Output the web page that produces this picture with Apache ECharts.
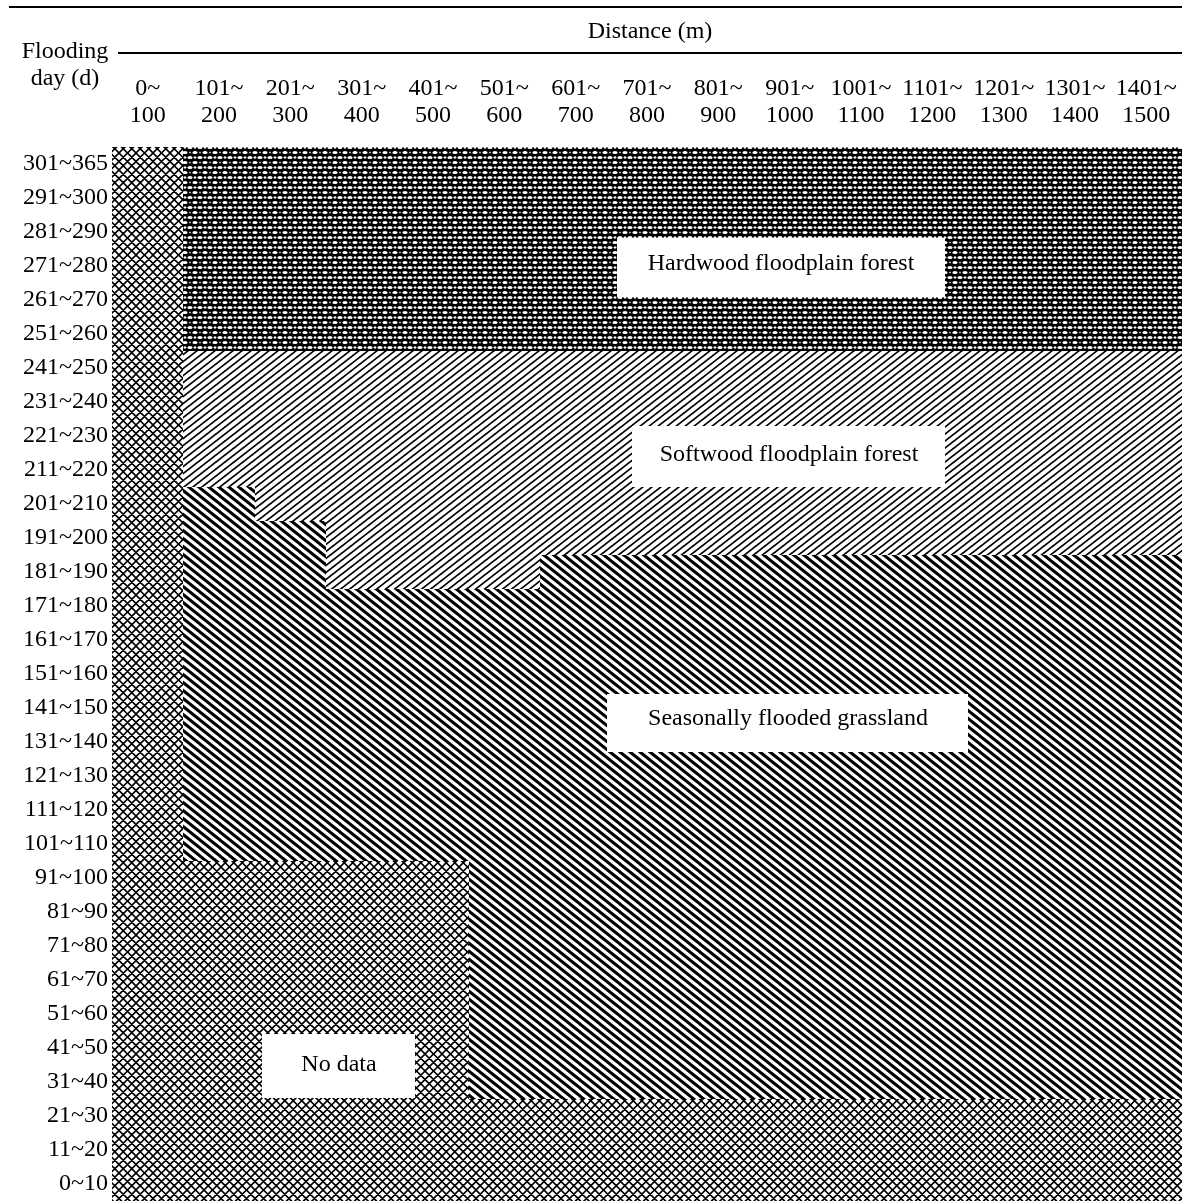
<!DOCTYPE html>
<html>
<head>
<meta charset="utf-8">
<script src="https://cdn.jsdelivr.net/npm/echarts@6/dist/echarts.min.js"></script>
<style>
  html, body { margin: 0; padding: 0; background: #fff; }
  #chart { width: 1182px; height: 1201px; }
</style>
</head>
<body>
<div id="chart"></div>
<script>
// Distance bins along the river bank (m), shown as two-line column headings
const distanceLabels = [
  '0~\n100', '101~\n200', '201~\n300', '301~\n400', '401~\n500',
  '501~\n600', '601~\n700', '701~\n800', '801~\n900', '901~\n1000',
  '1001~\n1100', '1101~\n1200', '1201~\n1300', '1301~\n1400', '1401~\n1500'
];

// Flooding duration bins (days per year), top row first
const floodingLabels = [
  '301~365', '291~300', '281~290', '271~280', '261~270', '251~260',
  '241~250', '231~240', '221~230', '211~220', '201~210', '191~200',
  '181~190', '171~180', '161~170', '151~160', '141~150', '131~140',
  '121~130', '111~120', '101~110', '91~100', '81~90', '71~80',
  '61~70', '51~60', '41~50', '31~40', '21~30', '11~20', '0~10'
];

// Vegetation zone codes
const zoneCodes = ['N', 'G', 'S', 'H'];
const zoneNames = {
  N: 'No data',
  G: 'Seasonally flooded grassland',
  S: 'Softwood floodplain forest',
  H: 'Hardwood floodplain forest'
};

// Zone of every cell: one string per flooding bin, one letter per distance bin
const zoneRows = [
  'NHHHHHHHHHHHHHH', // 301~365
  'NHHHHHHHHHHHHHH', // 291~300
  'NHHHHHHHHHHHHHH', // 281~290
  'NHHHHHHHHHHHHHH', // 271~280
  'NHHHHHHHHHHHHHH', // 261~270
  'NHHHHHHHHHHHHHH', // 251~260
  'NSSSSSSSSSSSSSS', // 241~250
  'NSSSSSSSSSSSSSS', // 231~240
  'NSSSSSSSSSSSSSS', // 221~230
  'NSSSSSSSSSSSSSS', // 211~220
  'NGSSSSSSSSSSSSS', // 201~210
  'NGGSSSSSSSSSSSS', // 191~200
  'NGGSSSGGGGGGGGG', // 181~190
  'NGGGGGGGGGGGGGG', // 171~180
  'NGGGGGGGGGGGGGG', // 161~170
  'NGGGGGGGGGGGGGG', // 151~160
  'NGGGGGGGGGGGGGG', // 141~150
  'NGGGGGGGGGGGGGG', // 131~140
  'NGGGGGGGGGGGGGG', // 121~130
  'NGGGGGGGGGGGGGG', // 111~120
  'NGGGGGGGGGGGGGG', // 101~110
  'NNNNNGGGGGGGGGG', // 91~100
  'NNNNNGGGGGGGGGG', // 81~90
  'NNNNNGGGGGGGGGG', // 71~80
  'NNNNNGGGGGGGGGG', // 61~70
  'NNNNNGGGGGGGGGG', // 51~60
  'NNNNNGGGGGGGGGG', // 41~50
  'NNNNNGGGGGGGGGG', // 31~40
  'NNNNNNNNNNNNNNN', // 21~30
  'NNNNNNNNNNNNNNN', // 11~20
  'NNNNNNNNNNNNNNN'  // 0~10
];

// ---- hatch fills drawn on small canvases and tiled ----
function makeTile(w, h, draw) {
  const c = document.createElement('canvas');
  c.width = w; c.height = h;
  const ctx = c.getContext('2d');
  ctx.fillStyle = '#fff';
  ctx.fillRect(0, 0, w, h);
  draw(ctx, w, h);
  return { image: c, repeat: 'repeat' };
}

function slashLines(ctx, w, h, lw, rising) {
  ctx.strokeStyle = '#000';
  ctx.lineWidth = lw;
  ctx.lineCap = 'square';
  ctx.beginPath();
  for (let k = -1; k <= 1; k++) {
    if (rising) { ctx.moveTo(k * w, h); ctx.lineTo(k * w + w, 0); }
    else { ctx.moveTo(k * w, 0); ctx.lineTo(k * w + w, h); }
  }
  ctx.stroke();
}

const patterns = {
  // lattice of crossing diagonals
  N: makeTile(17, 17, (ctx, w, h) => {
    ctx.strokeStyle = '#000';
    ctx.lineWidth = 1.6;
    ctx.beginPath();
    const p = 8.5;
    for (let k = -3; k <= 5; k++) {
      ctx.moveTo(k * p, 0); ctx.lineTo(k * p + h, h);
      ctx.moveTo(k * p, 0); ctx.lineTo(k * p - h, h);
    }
    ctx.stroke();
  }),
  // bold descending stripes
  G: makeTile(10, 8, (ctx, w, h) => slashLines(ctx, w, h, 3.0, false)),
  // thin rising stripes
  S: makeTile(9, 7, (ctx, w, h) => slashLines(ctx, w, h, 1.7, true)),
  // dark ground with staggered light dots
  H: makeTile(10, 10, (ctx, w, h) => {
    ctx.fillStyle = '#000';
    ctx.fillRect(0, 0, w, h);
    ctx.fillStyle = '#fff';
    const dots = [[5, 2.5], [0, 7.5], [10, 7.5]];
    dots.forEach(([x, y]) => {
      ctx.beginPath();
      ctx.ellipse(x, y, 2.6, 1.6, 0, 0, Math.PI * 2);
      ctx.fill();
    });
    // small crosses between the ovals
    ctx.fillRect(4.3, 6.3, 1.4, 2.4);
    ctx.fillRect(3.6, 6.9, 2.8, 1.2);
    ctx.fillRect(0, 1.8, 0.7, 1.4);
    ctx.fillRect(9.3, 1.8, 0.7, 1.4);
  })
};

// cells as [distance index, flooding index, zone index]
const cells = [];
zoneRows.forEach((row, r) => {
  for (let c = 0; c < row.length; c++) {
    cells.push([c, r, zoneCodes.indexOf(row[c])]);
  }
});

const serif = "'Liberation Serif', 'Times New Roman', 'DejaVu Serif', serif";
const fs = 24;

function renderCell(params, api) {
  const c = api.value(0), r = api.value(1);
  const center = api.coord([c, r]);
  const size = api.size([1, 1]);
  const x0 = Math.round(center[0] - size[0] / 2);
  const x1 = Math.round(center[0] + size[0] / 2);
  const y0 = Math.round(center[1] - size[1] / 2);
  const y1 = Math.round(center[1] + size[1] / 2);
  const code = zoneCodes[api.value(2)];
  return {
    type: 'rect',
    shape: { x: x0, y: y0, width: x1 - x0, height: y1 - y0 },
    style: { fill: patterns[code] }
  };
}

function zoneLabel(code, cx, cy, box) {
  return {
    type: 'group',
    children: [
      { type: 'rect', shape: { x: box[0], y: box[1], width: box[2], height: box[3] },
        style: { fill: '#fff' }, z: 10 },
      { type: 'text', x: cx, y: cy, z: 11,
        style: { text: zoneNames[code], font: fs + 'px ' + serif, fill: '#000',
                 align: 'center', verticalAlign: 'middle' } }
    ]
  };
}

const chart = echarts.init(document.getElementById('chart'), null, { renderer: 'canvas' });
chart.setOption({
  animation: false,
  backgroundColor: '#fff',
  grid: { left: 112, right: 0, top: 147, height: 1055 },
  xAxis: {
    type: 'category',
    position: 'top',
    data: distanceLabels,
    axisLine: { show: false },
    axisTick: { show: false },
    splitLine: { show: false },
    axisLabel: {
      interval: 0, margin: 18, color: '#000',
      fontFamily: serif, fontSize: fs, lineHeight: 27, align: 'center'
    }
  },
  yAxis: {
    type: 'category',
    inverse: true,
    data: floodingLabels,
    axisLine: { show: false },
    axisTick: { show: false },
    splitLine: { show: false },
    axisLabel: {
      interval: 0, margin: 4, color: '#000',
      fontFamily: serif, fontSize: fs
    }
  },
  series: [{
    type: 'custom',
    silent: true,
    renderItem: renderCell,
    encode: { x: 0, y: 1 },
    data: cells
  }],
  graphic: [
    { type: 'line', shape: { x1: 9, y1: 7, x2: 1182, y2: 7 },
      style: { stroke: '#000', lineWidth: 2 } },
    { type: 'line', shape: { x1: 118, y1: 53, x2: 1182, y2: 53 },
      style: { stroke: '#000', lineWidth: 2 } },
    { type: 'text', x: 650, y: 32,
      style: { text: 'Distance (m)', font: fs + 'px ' + serif, fill: '#000',
               align: 'center', verticalAlign: 'middle' } },
    { type: 'text', x: 65, y: 52,
      style: { text: 'Flooding', font: fs + 'px ' + serif, fill: '#000',
               align: 'center', verticalAlign: 'middle' } },
    { type: 'text', x: 65, y: 79,
      style: { text: 'day (d)', font: fs + 'px ' + serif, fill: '#000',
               align: 'center', verticalAlign: 'middle' } },
    zoneLabel('H', 781, 264, [617, 238, 328, 59]),
    zoneLabel('S', 789, 455, [632, 426, 313, 61]),
    zoneLabel('G', 788, 719, [607, 694, 361, 58]),
    zoneLabel('N', 339, 1065, [262, 1034, 153, 64])
  ]
});
</script>
</body>
</html>
